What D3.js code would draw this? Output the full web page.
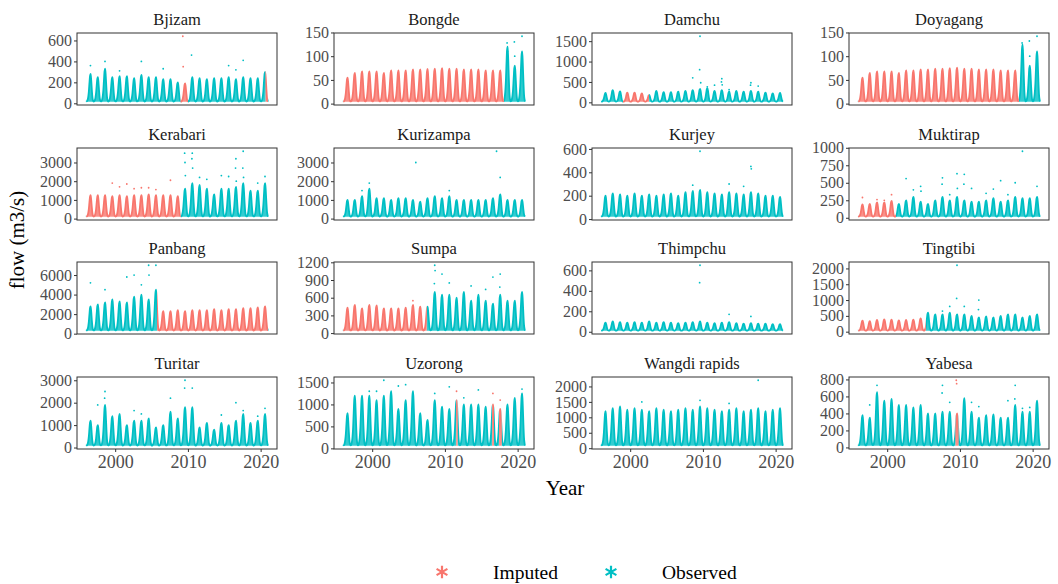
<!DOCTYPE html>
<html>
<head>
<meta charset="utf-8">
<script src="https://cdn.jsdelivr.net/npm/d3@7"></script>
<style>
	body { margin: 0; background: #fff; }
	svg, svg text { font-family: "Liberation Serif", "DejaVu Serif", "Liberation Sans", sans-serif; }
</style>
</head>
<body>
<div id="main"></div>
<script>
// seasonal hydrograph shape (share of the annual rise, Jan..Dec)
const monthShape = [0.01, 0.02, 0.07, 0.17, 0.36, 0.66, 0.93, 1, 0.76, 0.42, 0.15, 0.04];
const years = d3.range(1996, 2021);

const stations = [
	"Bjizam", "Bongde", "Damchu", "Doyagang",
	"Kerabari", "Kurizampa", "Kurjey", "Muktirap",
	"Panbang", "Sumpa", "Thimpchu", "Tingtibi",
	"Turitar", "Uzorong", "Wangdi rapids", "Yabesa",
];

// dry season low flow per station
const lowFlow = [15, 4, 15, 4, 100, 100, 20, 15, 300, 40, 10, 30, 80, 60, 80, 20];

// annual peak of the dense band, 1996..2020
const peaks = [
	[280, 250, 330, 250, 260, 260, 240, 270, 250, 250, 230, 230, 200, 190, 250, 240, 230, 240, 240, 250, 230, 250, 240, 240, 300],
	[55, 65, 68, 68, 68, 65, 70, 70, 70, 72, 72, 73, 74, 75, 74, 74, 72, 72, 72, 70, 70, 70, 120, 80, 110],
	[230, 300, 270, 240, 240, 220, 180, 280, 250, 250, 260, 280, 300, 330, 350, 280, 300, 260, 280, 260, 280, 260, 240, 220, 230],
	[55, 65, 68, 68, 68, 65, 70, 70, 72, 72, 74, 74, 75, 76, 74, 74, 72, 72, 72, 70, 70, 70, 125, 80, 110],
	[1250, 1250, 1250, 1200, 1250, 1200, 1250, 1250, 1300, 1250, 1250, 1250, 1200, 1600, 1900, 1800, 1600, 1300, 1600, 1600, 1700, 1900, 1500, 1500, 1900],
	[1000, 1000, 1200, 1600, 1100, 1100, 1000, 1100, 1100, 1000, 900, 1100, 1200, 1100, 1200, 1000, 1000, 1000, 1000, 1000, 1100, 1300, 1000, 1000, 1000],
	[200, 220, 210, 200, 220, 200, 210, 200, 210, 220, 200, 230, 240, 250, 230, 220, 210, 230, 220, 210, 230, 220, 200, 200, 190],
	[190, 200, 220, 220, 240, 200, 250, 300, 230, 200, 250, 300, 250, 300, 250, 230, 230, 250, 280, 230, 250, 300, 280, 280, 300],
	[2800, 3000, 3200, 3500, 3300, 3200, 3800, 4000, 3500, 4500, 2300, 2300, 2400, 2300, 2400, 2400, 2400, 2500, 2400, 2500, 2500, 2600, 2600, 2700, 2800],
	[430, 480, 420, 480, 470, 420, 420, 420, 430, 480, 450, 450, 700, 650, 650, 600, 700, 550, 650, 550, 500, 650, 550, 550, 700],
	[90, 100, 95, 90, 95, 90, 100, 90, 95, 90, 85, 90, 95, 100, 90, 85, 90, 95, 85, 80, 85, 80, 80, 75, 75],
	[350, 330, 370, 390, 380, 360, 370, 380, 420, 600, 550, 550, 600, 550, 550, 500, 450, 480, 450, 500, 550, 550, 450, 500, 550],
	[1200, 1000, 1900, 1400, 1500, 1000, 1200, 1200, 1300, 900, 1000, 1600, 1300, 1800, 1800, 900, 1100, 800, 1100, 1000, 1200, 1500, 1100, 1200, 1500],
	[800, 1200, 1200, 1200, 1100, 1200, 1300, 900, 1100, 1300, 800, 650, 1100, 950, 900, 1100, 1000, 1000, 1000, 950, 1000, 900, 1000, 1150, 1250],
	[1200, 1300, 1350, 1250, 1300, 1250, 1200, 1300, 1250, 1200, 1250, 1300, 1250, 1350, 1300, 1250, 1200, 1250, 1300, 1200, 1250, 1300, 1200, 1250, 1300],
	[380, 350, 650, 550, 570, 500, 500, 470, 500, 400, 400, 420, 420, 400, 580, 420, 350, 380, 390, 350, 350, 500, 420, 420, 550],
];

// scattered high days above the band: [decimal year, flow]
const spikes = [
	[[2009.3, 640], [2009.35, 350], [2010.5, 460], [1998.6, 400], [2003.6, 400], [2017.6, 410], [2015.6, 360], [2006.6, 330], [1996.6, 360], [2000.6, 310], [2016.6, 320]],
	[[2018.55, 128], [2019.55, 130], [2020.6, 142], [2018.6, 110], [2019.6, 100]],
	[[2009.6, 1620], [2009.55, 800], [2008.6, 600], [2009.7, 480], [2010.6, 380], [2011.6, 420], [2012.6, 580], [2012.55, 500], [2012.65, 430], [2016.6, 480], [2016.55, 420], [2017.6, 400], [2013.6, 310]],
	[[2018.55, 128], [2019.55, 132], [2020.6, 142], [2018.6, 112], [2019.6, 100]],
	[[1999.6, 1900], [2000.6, 1700], [2001.6, 1850], [2002.6, 1600], [2003.6, 1650], [2004.6, 1650], [2005.6, 1550], [2007.6, 2050], [2009.55, 3500], [2009.6, 3000], [2009.65, 2300], [2010.6, 3500], [2010.55, 3200], [2010.65, 2700], [2011.6, 2200], [2012.6, 2100], [2014.6, 2300], [2015.6, 2250], [2016.6, 3200], [2016.55, 2700], [2016.65, 2000], [2017.6, 3600], [2017.55, 2700], [2017.65, 2200], [2019.6, 1900], [2020.6, 2250]],
	[[1999.6, 1900], [1998.6, 1500], [2006.0, 3000], [2017.1, 3600], [2017.6, 2200], [2010.6, 1500]],
	[[2009.6, 580], [2016.6, 450], [2016.65, 430], [2013.6, 300], [2015.6, 280], [2008.6, 290]],
	[[1996.6, 290], [1998.6, 260], [1999.6, 250], [2000.6, 330], [2002.6, 560], [2003.6, 400], [2004.6, 450], [2004.65, 380], [2007.6, 570], [2007.55, 480], [2008.6, 330], [2009.6, 630], [2009.65, 420], [2010.6, 620], [2010.55, 480], [2011.6, 420], [2013.6, 350], [2014.6, 410], [2015.6, 530], [2016.6, 330], [2017.6, 500], [2018.6, 950], [2020.6, 450]],
	[[1996.6, 5200], [2001.6, 5800], [2002.6, 6000], [2004.6, 7000], [2005.6, 7000], [2004.65, 6000], [2003.6, 5000], [1998.6, 4500]],
	[[2005.6, 550], [2008.6, 1150], [2008.65, 1060], [2009.6, 1000], [2008.55, 840], [2010.6, 850], [2013.6, 800], [2015.6, 740], [2016.6, 950], [2017.6, 1000], [2017.55, 780]],
	[[2009.6, 650], [2009.55, 480], [2013.6, 170], [2016.6, 150]],
	[[2009.6, 2100], [2009.55, 1050], [2008.6, 800], [2010.6, 800], [2012.6, 1000], [2012.55, 700], [2007.6, 650]],
	[[1997.6, 1900], [1998.6, 2500], [1998.55, 2200], [2007.6, 2200], [2009.6, 3000], [2009.55, 2650], [2010.6, 2650], [2016.6, 2000], [2017.6, 1650], [2002.6, 1650], [2003.6, 1500], [2020.6, 1750], [2014.6, 1450], [2019.6, 1400]],
	[[2001.6, 1550], [2003.6, 1420], [2004.6, 1450], [2000.6, 1300], [1999.6, 1300], [2008.6, 1250], [2010.6, 1400], [2011.6, 1300], [2012.6, 1150], [2014.6, 1330], [2016.6, 1250], [2017.6, 1100], [2020.6, 1350]],
	[[2017.6, 2200], [2001.6, 1500], [2009.6, 1550], [2013.6, 1450]],
	[[1998.6, 730], [2007.6, 730], [2009.5, 790], [2009.55, 750], [2007.55, 640], [2016.6, 550], [2017.6, 730], [2017.55, 570], [1997.6, 500], [2008.6, 530], [2011.6, 530], [2012.6, 480], [2019.6, 470], [2018.6, 460]],
];

// periods filled by imputation: [from, to] in decimal years
const imputed = [
	[[2009.0, 2010.0], [2020.68, 2021.0]],
	[[1996.0, 2018.1]],
	[[1999.0, 2002.6]],
	[[1996.0, 2018.1]],
	[[1996.0, 2009.0]],
	[],
	[],
	[[1996.0, 2001.2]],
	[[2005.75, 2021.0]],
	[[1996.0, 2007.5]],
	[],
	[[1996.0, 2005.3]],
	[],
	[[2011.55, 2011.75], [2016.5, 2016.75], [2017.45, 2017.8]],
	[],
	[[2009.4, 2009.8]],
];

const yTicks = [
	[0, 200, 400, 600], [0, 50, 100, 150], [0, 500, 1000, 1500], [0, 50, 100, 150],
	[0, 1000, 2000, 3000], [0, 1000, 2000, 3000], [0, 200, 400, 600], [0, 250, 500, 750, 1000],
	[0, 2000, 4000, 6000], [0, 300, 600, 900, 1200], [0, 200, 400, 600], [0, 500, 1000, 1500, 2000],
	[0, 1000, 2000, 3000], [0, 500, 1000, 1500], [0, 500, 1000, 1500, 2000], [0, 200, 400, 600, 800],
];
const xTicks = [2000, 2010, 2020];

const colors = { Imputed: "#F8766D", Observed: "#00BFC4" };
const serif = '"Liberation Serif", "DejaVu Serif", "Liberation Sans", sans-serif';

const colLeft = [77, 334, 592, 849];
const rowTop = [33, 148, 262, 377];
const pw = 200,
	ph = 72;

const svg = d3
	.select("#main")
	.append("svg")
	.attr("width", 1058)
	.attr("height", 584)
	.attr("font-family", serif);

const x = d3.scaleLinear().domain([1994.75, 2022.25]).range([0, pw]);

stations.forEach((name, i) => {
	const col = i % 4,
		row = Math.floor(i / 4);
	const g = svg
		.append("g")
		.attr("transform", `translate(${colLeft[col]},${rowTop[row]})`);

	const base = lowFlow[i];
	const series = [{ t: 1996, v: base }];
	years.forEach((yr, k) => {
		monthShape.forEach((s, m) => {
			series.push({ t: yr + (m + 0.5) / 12, v: base + (peaks[i][k] - base) * s });
		});
	});
	series.push({ t: 2021, v: base });

	const top = d3.max(peaks[i].concat(spikes[i].map((d) => d[1])));
	const pad = (top - base) * 0.05;
	const y = d3.scaleLinear().domain([base - pad, top + pad]).range([ph, 0]);

	const isImp = (t) => imputed[i].some((r) => t >= r[0] && t <= r[1]);

	// clip areas for the two kinds of days
	const obsRanges = [];
	let cur = 1995;
	imputed[i].forEach((r) => {
		obsRanges.push([cur, r[0]]);
		cur = r[1];
	});
	obsRanges.push([cur, 2022]);
	const kinds = [
		{ key: "Observed", ranges: obsRanges },
		{ key: "Imputed", ranges: imputed[i] },
	];

	const area = d3
		.area()
		.x((d) => x(d.t))
		.y0(y(base))
		.y1((d) => y(d.v))
		.curve(d3.curveMonotoneX);
	const line = area.lineY1();

	kinds.forEach((k, j) => {
		const id = `clip-${i}-${j}`;
		g.append("clipPath")
			.attr("id", id)
			.selectAll("rect")
			.data(k.ranges)
			.enter()
			.append("rect")
			.attr("x", (r) => x(r[0]))
			.attr("width", (r) => Math.max(0, x(r[1]) - x(r[0])))
			.attr("y", -2)
			.attr("height", ph + 4);
		const kg = g.append("g").attr("clip-path", `url(#${id})`);
		kg.append("path")
			.attr("d", area(series))
			.style("fill", colors[k.key])
			.style("fill-opacity", 0.8);
		kg.append("path")
			.attr("d", line(series))
			.style("fill", "none")
			.style("stroke", colors[k.key])
			.style("stroke-width", 1.8);
	});

	g.selectAll("circle.spike")
		.data(spikes[i])
		.enter()
		.append("circle")
		.classed("spike", true)
		.attr("cx", (d) => x(d[0]))
		.attr("cy", (d) => y(d[1]))
		.attr("r", 0.9)
		.style("fill", (d) => (isImp(d[0]) ? colors.Imputed : colors.Observed));

	g.append("rect")
		.attr("width", pw)
		.attr("height", ph)
		.style("fill", "none")
		.style("stroke", "#333333")
		.style("stroke-width", 1);

	const yAxis = g
		.append("g")
		.call(
			d3.axisLeft(y).tickValues(yTicks[i]).tickFormat(d3.format("d")).tickSize(3).tickPadding(2)
		)
		.attr("font-family", serif);
	yAxis.select(".domain").remove();
	yAxis.selectAll("line").style("stroke", "#333333");
	yAxis
		.selectAll("text")
		.style("font-size", "16px")
		.style("fill", "#4D4D4D");

	if (row === 3) {
		const xa = g
			.append("g")
			.attr("transform", `translate(0,${ph})`)
			.call(
				d3.axisBottom(x).tickValues(xTicks).tickFormat(d3.format("d")).tickSize(3).tickPadding(3)
			)
			.attr("font-family", serif);
		xa.select(".domain").remove();
		xa.selectAll("line").style("stroke", "#333333");
		xa.selectAll("text")
			.style("font-size", "18px")
			.style("fill", "#4D4D4D");
	}

	g.append("text")
		.attr("x", pw / 2)
		.attr("y", -8)
		.attr("text-anchor", "middle")
		.style("font-size", "16.5px")
		.style("fill", "#1A1A1A")
		.text(name);
});

svg.append("text")
	.attr("transform", "translate(24,240) rotate(-90)")
	.attr("text-anchor", "middle")
	.style("font-size", "21px")
	.text("flow (m3/s)");

svg.append("text")
	.attr("x", 565)
	.attr("y", 495)
	.attr("text-anchor", "middle")
	.style("font-size", "21px")
	.text("Year");

const legend = svg.append("g").attr("transform", "translate(0,572)");
const legendItems = [
	{ key: "Imputed", sx: 442, tx: 493 },
	{ key: "Observed", sx: 611, tx: 662 },
];
legend
	.selectAll("path")
	.data(legendItems)
	.enter()
	.append("path")
	.attr("transform", (d) => `translate(${d.sx},0)`)
	.attr("d", d3.symbol(d3.symbolAsterisk, 110))
	.style("fill", "none")
	.style("stroke", (d) => colors[d.key])
	.style("stroke-width", 2.2);
legend
	.selectAll("text")
	.data(legendItems)
	.enter()
	.append("text")
	.attr("x", (d) => d.tx)
	.attr("y", 7)
	.style("font-size", "19.5px")
	.text((d) => d.key);
</script>
</body>
</html>
